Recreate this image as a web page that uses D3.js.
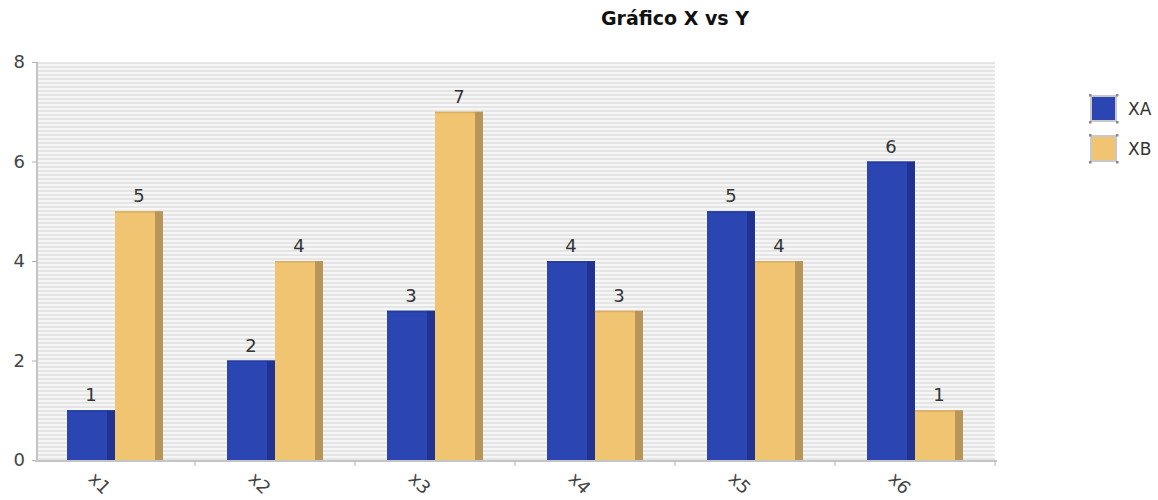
<!DOCTYPE html>
<html><head><meta charset="utf-8">
<script src="https://cdn.jsdelivr.net/npm/d3@7"></script>
<style>body{margin:0;background:#fff}svg{display:block}text{font-family:"DejaVu Sans",sans-serif}</style>
</head><body>
<svg id="c" width="1158" height="500"></svg>
<script>
const categories = ["x1","x2","x3","x4","x5","x6"];
const seriesNames = ["XA","XB"];
const valuesXA = [1,2,3,4,5,6];
const valuesXB = [5,4,7,3,4,1];
const yTicks = [0,2,4,6,8];
const title = "Gráfico X vs Y";

const colors = {XA:"#2b45b2", XB:"#f1c472"};
const sideColors = {XA:"#1f3490", XB:"#b8955a"};
const topColors = {XA:"#233c9e", XB:"#d9ad62"};

const svg = d3.select("#c");
const pLeft=35, pRight=995, pTop=62, pBottom=460;

const x0 = d3.scaleBand().domain(categories).range([pLeft,pRight]);
const x1 = d3.scaleBand().domain(seriesNames).range([32,128]);
const y = d3.scaleLinear().domain([0,8]).range([pBottom,pTop]);

// striped background
const defs = svg.append("defs");
const pat = defs.append("pattern").attr("id","stripes").attr("patternUnits","userSpaceOnUse")
  .attr("width",8).attr("height",4).attr("y",pTop);
pat.append("rect").attr("width",8).attr("height",4).attr("fill","#f6f6f6");
pat.append("rect").attr("y",0).attr("width",8).attr("height",2).attr("fill","#e5e5e5");
svg.append("rect").attr("x",pLeft+2).attr("y",pTop).attr("width",pRight-pLeft-2).attr("height",pBottom-pTop)
  .attr("fill","url(#stripes)");

// title
svg.append("text").attr("x",675).attr("y",25).attr("text-anchor","middle")
  .attr("font-weight","bold").attr("font-size",19).attr("fill","#111").text(title);

// bars
const data = [];
categories.forEach((c,i)=>{
  data.push({cat:c, s:"XA", v:valuesXA[i]});
  data.push({cat:c, s:"XB", v:valuesXB[i]});
});
const side = 8;
const g = svg.append("g");
data.forEach(d=>{
  const bx = x0(d.cat)+x1(d.s), bw = x1.bandwidth();
  const by = y(d.v), bh = y(0)-y(d.v);
  g.append("rect").attr("x",bx).attr("y",by).attr("width",bw).attr("height",bh).attr("fill",colors[d.s]);
  g.append("rect").attr("x",bx+bw-side).attr("y",by).attr("width",side).attr("height",bh).attr("fill",sideColors[d.s]);
  g.append("rect").attr("x",bx).attr("y",by).attr("width",bw-side).attr("height",1.5).attr("fill",topColors[d.s]);
  g.append("text").attr("x",bx+bw/2).attr("y",by-9).attr("text-anchor","middle")
    .attr("font-size",18).attr("fill","#333").text(d.v);
});

// y axis
const yAxis = svg.append("g").attr("transform",`translate(${pLeft+2},0)`)
  .call(d3.axisLeft(y).tickValues(yTicks).tickSize(5).tickPadding(7).tickFormat(d3.format("d")));
yAxis.select(".domain").attr("stroke","#c4c4c4").attr("stroke-width",2).attr("d",`M0,${pTop}V${pBottom+2}`);
yAxis.selectAll(".tick line").attr("stroke","#b0b0b0");
yAxis.selectAll(".tick text").attr("font-size",18).attr("fill","#444").attr("font-family","DejaVu Sans");

// x axis
const xAxisG = svg.append("g").attr("transform",`translate(0,${pBottom+1})`);
xAxisG.append("line").attr("x1",pLeft).attr("x2",pRight+2).attr("stroke","#c4c4c4").attr("stroke-width",2);
categories.forEach((c,i)=>{
  const bx = x0(c)+x0.bandwidth();
  xAxisG.append("line").attr("x1",bx).attr("x2",bx).attr("y1",0).attr("y2",5).attr("stroke","#b0b0b0");
  const cx = x0(c)+x0.bandwidth()/2;
  xAxisG.append("text").attr("transform",`translate(${cx-15},22) rotate(45)`)
    .attr("text-anchor","middle").attr("dominant-baseline","central")
    .attr("font-size",18).attr("fill","#444").text(c);
});

// legend
const lg = svg.append("g");
seriesNames.forEach((s,i)=>{
  const ly = 95 + i*40;
  lg.append("rect").attr("x",1090).attr("y",ly).attr("width",27).attr("height",27)
    .attr("fill","#c8c8c8");
  lg.append("rect").attr("x",1092).attr("y",ly+2).attr("width",23).attr("height",23).attr("fill",colors[s]);
  [[1090,ly],[1117,ly],[1090,ly+27],[1117,ly+27]].forEach(p=>{
    lg.append("rect").attr("x",p[0]-1).attr("y",p[1]-1).attr("width",2.5).attr("height",2.5).attr("fill","#888");
  });
  lg.append("text").attr("x",1128).attr("y",ly+14).attr("dominant-baseline","central")
    .attr("font-size",17).attr("fill","#333").text(s);
});
</script>
</body></html>
